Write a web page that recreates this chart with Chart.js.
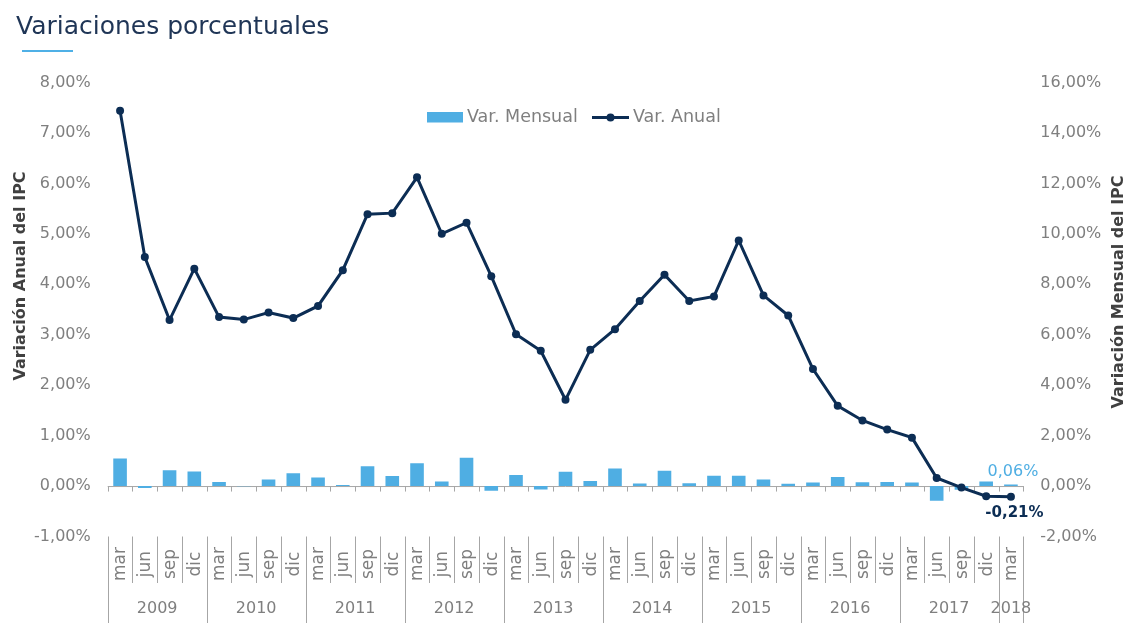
<!DOCTYPE html>
<html>
<head>
<meta charset="utf-8">
<script src="https://cdn.jsdelivr.net/npm/chart.js@4/dist/chart.umd.min.js"></script>
<style>
  html, body { margin: 0; padding: 0; background: #ffffff; }
  #wrap { position: relative; width: 1129px; height: 623px; }
</style>
</head>
<body>
<div id="wrap"><canvas id="c" width="1129" height="623"></canvas></div>
<script>
// ---- Data ----
const quarterLabels = [
  'mar','jun','sep','dic', 'mar','jun','sep','dic', 'mar','jun','sep','dic',
  'mar','jun','sep','dic', 'mar','jun','sep','dic', 'mar','jun','sep','dic',
  'mar','jun','sep','dic', 'mar','jun','sep','dic', 'mar','jun','sep','dic',
  'mar'
];
const yearLabels = ['2009','2010','2011','2012','2013','2014','2015','2016','2017','2018'];

// Variación anual del IPC (%), eje izquierdo
const varAnual = [
  7.44, 4.54, 3.29, 4.31,
  3.35, 3.30, 3.44, 3.33,
  3.57, 4.28, 5.39, 5.41,
  6.12, 5.00, 5.22, 4.16,
  3.01, 2.68, 1.71, 2.70,
  3.11, 3.67, 4.19, 3.67,
  3.76, 4.87, 3.78, 3.38,
  2.32, 1.59, 1.30, 1.12,
  0.96, 0.16, -0.03, -0.20,
  -0.21
];
// Variación mensual del IPC (%), eje derecho
const varMensual = [
  1.09, -0.08, 0.63, 0.58,
  0.16, -0.01, 0.26, 0.51,
  0.34, 0.04, 0.79, 0.40,
  0.90, 0.18, 1.12, -0.19,
  0.44, -0.14, 0.57, 0.20,
  0.70, 0.10, 0.61, 0.11,
  0.41, 0.41, 0.26, 0.09,
  0.14, 0.36, 0.15, 0.16,
  0.14, -0.58, -0.15, 0.18,
  0.06
];
const leftTicks = { min: -1, max: 8, step: 1 };
const rightTicks = { min: -2, max: 16, step: 2 };

const seriesNames = ['Var. Mensual', 'Var. Anual'];
const titleText = 'Variaciones porcentuales';
const leftAxisTitle = 'Variación Anual del IPC';
const rightAxisTitle = 'Variación Mensual del IPC';

// ---- Styles ----
const FONT = '"DejaVu Sans", sans-serif';
const BAR_COLOR = '#4FAEE3';
const LINE_COLOR = '#0C2D54';
const TICK_COLOR = '#7F7F7F';
const AXIS_TITLE_COLOR = '#404040';
const SEP_COLOR = '#A6A6A6';

const fmt = v => v.toFixed(2).replace('.', ',') + '%';

const customDraw = {
  id: 'customDraw',
  beforeDatasetsDraw(chart) {
    const { ctx, chartArea: a, scales } = chart;
    const x = scales.x, y = scales.y;
    const y0 = y.getPixelForValue(0);
    const n = quarterLabels.length;
    const step = x.getPixelForValue(1) - x.getPixelForValue(0);
    ctx.save();
    ctx.strokeStyle = SEP_COLOR;
    ctx.lineWidth = 1;
    // zero axis line
    ctx.beginPath();
    ctx.moveTo(a.left, y0 + 0.5);
    ctx.lineTo(a.right, y0 + 0.5);
    ctx.stroke();
    // tick marks
    for (let i = 0; i <= n; i++) {
      const bx = Math.round(x.getPixelForValue(0) - step / 2 + i * step) + 0.5;
      ctx.beginPath();
      ctx.moveTo(bx, y0);
      ctx.lineTo(bx, y0 + 5.5);
      ctx.stroke();
    }
    ctx.restore();
  },
  afterDraw(chart) {
    const { ctx, chartArea: a, scales } = chart;
    const x = scales.x, y = scales.y, y1 = scales.y1;
    const n = quarterLabels.length;
    const step = x.getPixelForValue(1) - x.getPixelForValue(0);
    const start = x.getPixelForValue(0) - step / 2;
    ctx.save();
    // category separators
    ctx.strokeStyle = SEP_COLOR;
    ctx.lineWidth = 1;
    for (let i = 0; i <= n; i++) {
      const bx = Math.round(start + i * step) + 0.5;
      const isYear = (i % 4 === 0) || i === n;
      ctx.beginPath();
      ctx.moveTo(bx, a.bottom);
      ctx.lineTo(bx, isYear ? 623 : 583);
      ctx.stroke();
    }
    // month labels (rotated)
    ctx.fillStyle = TICK_COLOR;
    ctx.font = '17px ' + FONT;
    ctx.textAlign = 'center';
    ctx.textBaseline = 'middle';
    quarterLabels.forEach((lab, i) => {
      const cx = x.getPixelForValue(i);
      ctx.save();
      ctx.translate(cx + 1, 564);
      ctx.rotate(-Math.PI / 2);
      ctx.fillText(lab, 0, 0);
      ctx.restore();
    });
    // year labels
    ctx.font = '16px ' + FONT;
    yearLabels.forEach((yr, k) => {
      const i0 = k * 4;
      const i1 = Math.min(i0 + 3, n - 1);
      const cx = (x.getPixelForValue(i0) + x.getPixelForValue(i1)) / 2;
      ctx.fillText(yr, cx, 609);
    });
    // axis titles
    ctx.fillStyle = AXIS_TITLE_COLOR;
    ctx.font = 'bold 16px ' + FONT;
    ctx.save();
    ctx.translate(20.5, 276);
    ctx.rotate(-Math.PI / 2);
    ctx.fillText(leftAxisTitle, 0, 0);
    ctx.restore();
    ctx.save();
    ctx.translate(1118.5, 292);
    ctx.rotate(-Math.PI / 2);
    ctx.fillText(rightAxisTitle, 0, 0);
    ctx.restore();
    // title
    ctx.fillStyle = '#1F3556';
    ctx.font = '25px ' + FONT;
    ctx.textAlign = 'left';
    ctx.textBaseline = 'alphabetic';
    ctx.fillText(titleText, 16, 33.5);
    ctx.fillStyle = '#4FB0E6';
    ctx.fillRect(22, 50, 51, 2);
    // legend
    ctx.fillStyle = BAR_COLOR;
    ctx.fillRect(427, 112, 36, 10.5);
    ctx.fillStyle = TICK_COLOR;
    ctx.font = '17.5px ' + FONT;
    ctx.textBaseline = 'middle';
    ctx.fillText(seriesNames[0], 467, 117.5);
    ctx.strokeStyle = LINE_COLOR;
    ctx.lineWidth = 3;
    ctx.beginPath();
    ctx.moveTo(592, 117.5);
    ctx.lineTo(629, 117.5);
    ctx.stroke();
    ctx.fillStyle = LINE_COLOR;
    ctx.beginPath();
    ctx.arc(610.5, 117.5, 4, 0, Math.PI * 2);
    ctx.fill();
    ctx.fillStyle = TICK_COLOR;
    ctx.fillText(seriesNames[1], 633, 117.5);
    // data labels for the last values
    const last = n - 1;
    const lx = x.getPixelForValue(last);
    ctx.textAlign = 'center';
    ctx.fillStyle = LINE_COLOR;
    ctx.font = 'bold 15px ' + FONT;
    ctx.fillText(fmt(varAnual[last]), lx + 3.5, y.getPixelForValue(varAnual[last]) + 16);
    ctx.fillStyle = BAR_COLOR;
    ctx.font = '16px ' + FONT;
    ctx.fillText(fmt(varMensual[last]), lx + 2, y1.getPixelForValue(varMensual[last]) - 12.5);
    ctx.restore();
  }
};

new Chart(document.getElementById('c'), {
  type: 'bar',
  data: {
    labels: quarterLabels,
    datasets: [
      {
        type: 'line',
        label: seriesNames[1],
        data: varAnual,
        yAxisID: 'y',
        borderColor: LINE_COLOR,
        backgroundColor: LINE_COLOR,
        borderWidth: 3,
        pointRadius: 4,
        pointBackgroundColor: LINE_COLOR,
        pointBorderColor: LINE_COLOR,
        pointBorderWidth: 0,
        tension: 0,
        order: 0
      },
      {
        type: 'bar',
        label: seriesNames[0],
        data: varMensual,
        yAxisID: 'y1',
        backgroundColor: BAR_COLOR,
        borderWidth: 0,
        categoryPercentage: 1,
        barPercentage: 0.55,
        order: 1
      }
    ]
  },
  options: {
    responsive: false,
    animation: false,
    devicePixelRatio: 1,
    layout: { padding: { top: 82.5, bottom: 86.5, left: 0, right: 0 } },
    plugins: { legend: { display: false }, tooltip: { enabled: false }, title: { display: false } },
    scales: {
      x: {
        type: 'category',
        display: false,
        offset: true,
        grid: { display: false }
      },
      y: {
        position: 'left',
        min: leftTicks.min,
        max: leftTicks.max,
        afterFit: s => { s.width = 107.7; },
        grid: { display: false, drawTicks: false },
        border: { display: false },
        ticks: {
          stepSize: leftTicks.step,
          padding: 17,
          color: TICK_COLOR,
          font: { family: FONT, size: 16 },
          callback: v => fmt(v)
        }
      },
      y1: {
        position: 'right',
        min: rightTicks.min,
        max: rightTicks.max,
        afterFit: s => { s.width = 1129 - 1023.3; },
        grid: { display: false, drawTicks: false },
        border: { display: false },
        ticks: {
          stepSize: rightTicks.step,
          padding: 17,
          color: TICK_COLOR,
          font: { family: FONT, size: 16 },
          callback: v => fmt(v)
        }
      }
    }
  },
  plugins: [customDraw]
});
</script>
</body>
</html>
